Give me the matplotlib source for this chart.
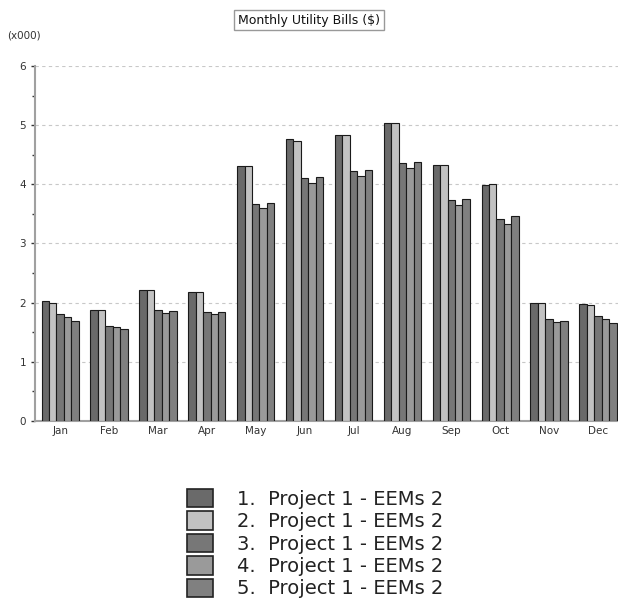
import numpy as np
import matplotlib
matplotlib.use("Agg")
from matplotlib import pyplot as plt
from matplotlib.patches import Patch
from matplotlib.ticker import MultipleLocator

months = ["Jan", "Feb", "Mar", "Apr", "May", "Jun", "Jul", "Aug", "Sep", "Oct", "Nov", "Dec"]
series_names = ["1.  Project 1 - EEMs 2", "2.  Project 1 - EEMs 2", "3.  Project 1 - EEMs 2",
                "4.  Project 1 - EEMs 2", "5.  Project 1 - EEMs 2"]
s1 = [2.02, 1.87, 2.22, 2.18, 4.31, 4.76, 4.84, 5.03, 4.32, 3.99, 2.00, 1.98]
s2 = [2.00, 1.87, 2.22, 2.18, 4.31, 4.74, 4.84, 5.03, 4.32, 4.01, 2.00, 1.96]
s3 = [1.80, 1.61, 1.87, 1.84, 3.66, 4.11, 4.23, 4.36, 3.73, 3.42, 1.72, 1.77]
s4 = [1.76, 1.58, 1.82, 1.80, 3.60, 4.02, 4.14, 4.27, 3.65, 3.33, 1.68, 1.73]
s5 = [1.69, 1.55, 1.86, 1.85, 3.69, 4.12, 4.25, 4.38, 3.76, 3.46, 1.69, 1.66]
colors = ["#6a6a6a", "#c2c2c2", "#777777", "#9a9a9a", "#808080"]

fig = plt.figure(figsize=(6.18, 6.11), dpi=100)
ax = fig.add_axes([0.057, 0.311, 0.943, 0.581])

x = np.arange(len(months))
w = 0.152
for i, vals in enumerate([s1, s2, s3, s4, s5]):
    ax.bar(x + (i - 2) * w, vals, width=w, color=colors[i], edgecolor="#1a1a1a", linewidth=0.8, zorder=3)

ax.set_xlim(-0.51, 11.41)
ax.set_ylim(0, 6)
ax.yaxis.set_major_locator(MultipleLocator(1))
ax.yaxis.set_minor_locator(MultipleLocator(0.5))
ax.set_xticks(x)
ax.set_xticklabels(months)
ax.tick_params(axis="both", labelsize=7.5, colors="#333333", length=3, width=1)
ax.tick_params(axis="y", which="minor", length=2, width=1, colors="#333333")
ax.tick_params(axis="x", direction="in", length=3)
ax.grid(axis="y", linestyle=(0, (3, 3)), color="#c8c8c8", linewidth=0.8, zorder=0)
for s in ["top", "right"]:
    ax.spines[s].set_visible(False)
ax.spines["left"].set_color("#a0a0a0")
ax.spines["bottom"].set_color("#a0a0a0")
ax.spines["left"].set_linewidth(1.5)
ax.spines["bottom"].set_linewidth(1.5)

fig.text(0.5, 0.967, "Monthly Utility Bills ($)", ha="center", va="center", fontsize=9, color="#111111",
         bbox=dict(boxstyle="square,pad=0.3", facecolor="white", edgecolor="#999999", linewidth=1))
fig.text(0.012, 0.942, "(x000)", ha="left", va="center", fontsize=7.5, color="#333333")

# legend below the plot, big squares
handles = [Patch(facecolor=c, edgecolor="#222222", linewidth=1.2) for c in colors]
fig.legend(handles, series_names, loc="upper left", bbox_to_anchor=(0.3026, 0.20), frameon=False,
           fontsize=14, handlelength=1.34, handleheight=1.08, handletextpad=1.24, labelspacing=0.135,
           borderaxespad=0, borderpad=0, labelcolor="#222222")

fig.savefig("out.png", dpi=100)
